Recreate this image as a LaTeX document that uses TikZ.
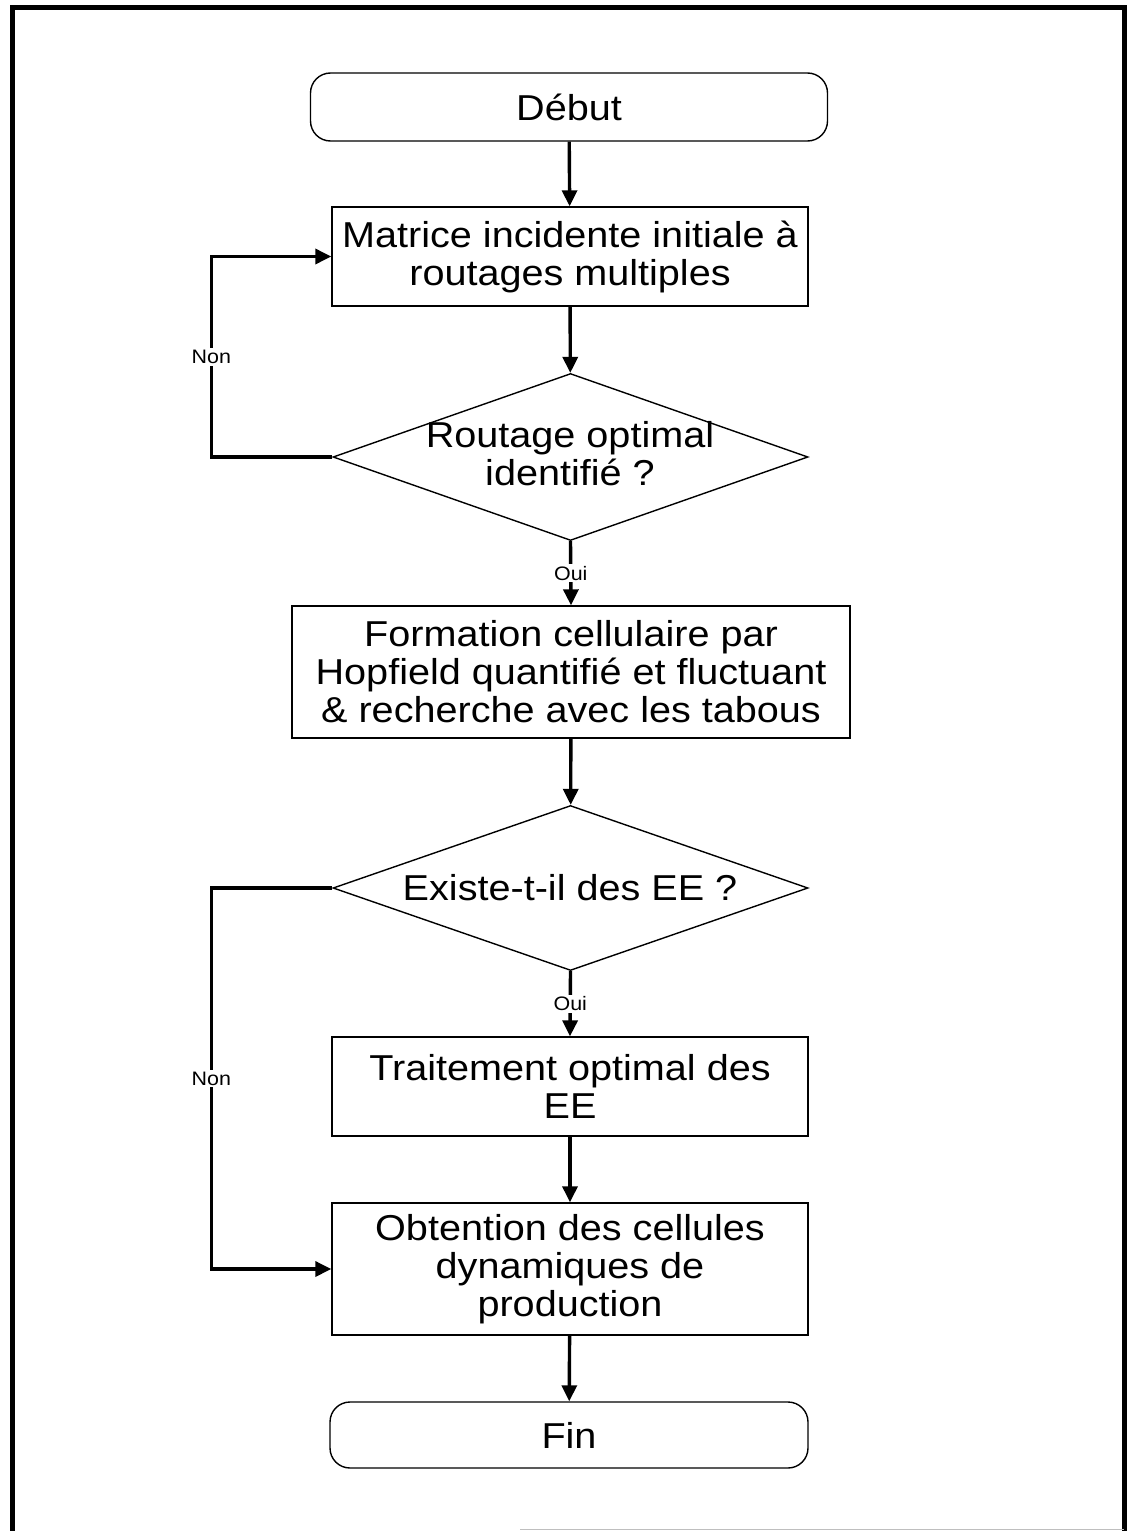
\documentclass[tikz,border=0pt]{standalone}
\usepackage{fontspec}
\setmainfont[FakeStretch=1.1]{Liberation Sans}
\usetikzlibrary{shapes.geometric,arrows.meta}
\begin{document}
\begin{tikzpicture}[x=1pt,y=-1pt,
  box/.style={draw,line width=1.4pt,inner sep=0pt,align=center,font=\fontsize{36}{38}\selectfont},
  term/.style={box,rounded corners=20pt},
  dia/.style={draw,diamond,line width=1.4pt,inner sep=0pt},
  dtext/.style={align=center,font=\fontsize{36}{38}\selectfont,inner sep=0pt},
  conn/.style={line width=3.4pt,-{Triangle[length=16pt,width=15pt]}},
  lbl/.style={fill=white,inner sep=2pt,font=\fontsize{19.5}{21}\selectfont}]
\useasboundingbox (0,0) rectangle (1128,1531);
% frame
\draw[line width=5pt] (12,1531) -- (12,7) -- (1124,7) -- (1124,1531);
\draw[gray!50,line width=1pt] (520,1529) -- (1124,1529);
% nodes
\node[term,minimum width=517pt,minimum height=68pt] (debut) at (569,107) {Début};
\node[box,minimum width=476pt,minimum height=99pt] (mat) at (570,256.5) {Matrice incidente initiale à\\routages multiples};
\node[dia,minimum width=475pt,minimum height=167pt] (d1) at (570.5,457) {};
\node[dtext] (d1t) at (570,454) {Routage optimal\\identifié ?};
\node[box,minimum width=558pt,minimum height=132pt] (form) at (571,672) {Formation cellulaire par\\Hopfield quantifié et fluctuant\\\& recherche avec les tabous};
\node[dia,minimum width=475pt,minimum height=165pt] (d2) at (570.5,888) {};
\node[dtext] (d2t) at (570,888) {Existe-t-il des EE ?};
\node[box,minimum width=476pt,minimum height=99pt] (trait) at (570,1086.5) {Traitement optimal des\\EE};
\node[box,minimum width=476pt,minimum height=132pt] (obt) at (570,1269) {Obtention des cellules\\dynamiques de\\production};
\node[term,minimum width=478pt,minimum height=66pt] (fin) at (569,1435) {Fin};
% connectors
\draw[conn] (debut) -- (mat);
\draw[conn] (mat) -- (d1);
\draw[conn] (d1.west) -- ++(-121,0) |- (mat.west) node[pos=0.25,lbl] (non1) {Non};
\draw[conn] (d1.south) -- (form.north) node[midway,lbl] (oui1) {Oui};
\draw[conn] (form) -- (d2);
\draw[conn] (d2.south) -- (trait.north) node[midway,lbl] (oui2) {Oui};
\draw[conn] (trait) -- (obt);
\draw[conn] (d2.west) -- ++(-121,0) |- (obt.west) node[pos=0.25,lbl] (non2) {Non};
\draw[conn] (obt) -- (fin);
\end{tikzpicture}
\end{document}
